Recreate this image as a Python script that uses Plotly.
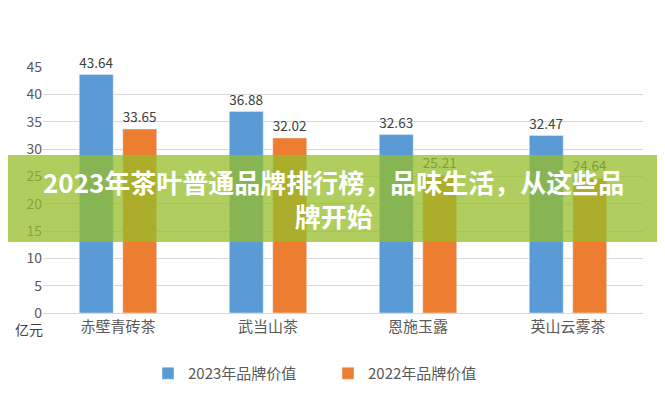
import plotly.graph_objects as go

categories = ["赤壁青砖茶", "武当山茶", "恩施玉露", "英山云雾茶"]
v2023 = [43.64, 36.88, 32.63, 32.47]
v2022 = [33.65, 32.02, 25.21, 24.64]

font = "Noto Sans CJK SC"
fig = go.Figure()
fig.add_bar(x=categories, y=v2023, name="2023年品牌价值", marker_color="#5B9BD5",
            text=[f"{v:.2f}" for v in v2023], textposition="outside", cliponaxis=False)
fig.add_bar(x=categories, y=v2022, name="2022年品牌价值", marker_color="#ED7D31",
            text=[f"{v:.2f}" for v in v2022], textposition="outside", cliponaxis=False)
fig.update_traces(textfont=dict(size=14, color="#404040"))
fig.update_layout(
    width=665, height=400, margin=dict(l=35, r=30, t=59, b=95, autoexpand=False),
    paper_bgcolor="white", plot_bgcolor="white",
    font=dict(family=font, color="#595959", size=14),
    barmode="group", bargap=0.42, bargroupgap=0.22,
    yaxis=dict(range=[0, 45], dtick=5, gridcolor="#D9D9D9", zeroline=False,
               ticks="", tickfont=dict(size=14), automargin=False),
    xaxis=dict(showline=True, linecolor="#D9D9D9", tickfont=dict(size=15), automargin=False),
    legend=dict(orientation="h", x=0.475, xanchor="center", yref="container", y=0.045,
                yanchor="bottom", font=dict(size=15), entrywidth=135),
    showlegend=True,
)
fig.add_annotation(text="亿元", xref="paper", yref="paper", x=-0.05, y=-0.115,
                   showarrow=False, xanchor="left", font=dict(size=14, color="#404040"))
fig.add_shape(type="rect", xref="paper", yref="paper", x0=-0.2, x1=1.2,
              y0=(305-234)/246, y1=(305-147)/246, line_width=0,
              fillcolor="rgba(150,190,40,0.75)", layer="above")
fig.add_annotation(text="<b>2023年茶叶普通品牌排行榜，品味生活，从这些品<br>牌开始</b>",
                   xref="paper", yref="paper", x=(325-35)/600, y=(305-190)/246,
                   showarrow=False, font=dict(size=26, color="white", family=font),
                   align="center")
fig.write_html("out.html")
